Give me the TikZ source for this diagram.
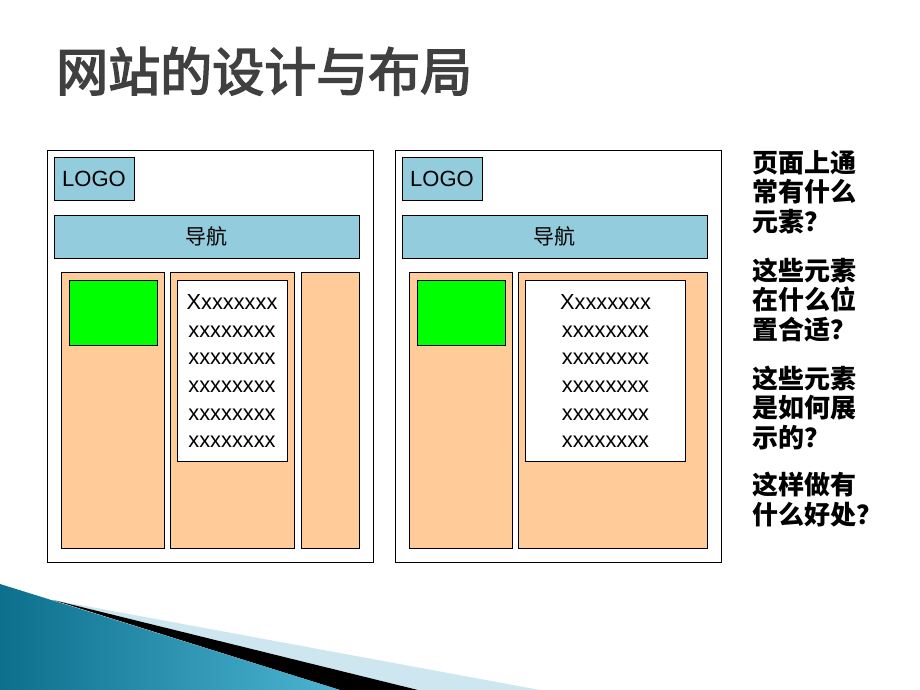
\documentclass[tikz,border=0pt]{standalone}
\usepackage{fontspec}
\setmainfont{Liberation Sans}
\newfontfamily\cjk{Noto Sans CJK SC}
\newfontfamily\cjktitle[FakeBold=3]{Noto Sans CJK SC}
\begin{document}
\begin{tikzpicture}[x=1pt,y=-1pt,
  panel/.style={draw=black, line width=0.9pt, fill=white, inner sep=0pt},
  bluebox/.style={draw=black, line width=0.9pt, fill=navblue, inner sep=0pt},
  colbox/.style={draw=black, line width=0.9pt, fill=peach, inner sep=0pt},
  greenbox/.style={draw=black, line width=0.9pt, fill=brightgreen, inner sep=0pt},
  whitebox/.style={draw=black, line width=0.9pt, fill=white, inner sep=0pt},
  logotext/.style={font=\fontsize{22pt}{26pt}\selectfont},
  navtext/.style={font=\cjk\fontsize{21pt}{25pt}\selectfont},
  xtext/.style={inner sep=0pt, align=center, font=\fontsize{21.8pt}{27.7pt}\selectfont},
  qtext/.style={inner sep=0pt, align=left, anchor=base west, font=\cjk\bfseries\fontsize{26pt}{29.7pt}\selectfont},
]
\definecolor{navblue}{RGB}{147,205,221}
\definecolor{peach}{RGB}{255,204,153}
\definecolor{brightgreen}{RGB}{0,255,0}
\definecolor{titlegray}{RGB}{64,64,64}
\definecolor{tealdark}{RGB}{12,112,140}
\definecolor{teallight}{RGB}{76,180,210}
\definecolor{paleblue}{RGB}{205,230,240}

\fill[white] (0,0) rectangle (920,690);
\useasboundingbox (0,0) rectangle (920,690);

% title
\node[anchor=base west, inner sep=0pt, text=titlegray,
      font=\cjktitle\fontsize{52pt}{60pt}\selectfont] (title) at (56,91) {网站的设计与布局};

% panel 1
\node[panel, minimum width=326pt, minimum height=412pt] (p1) at (210,356) {};
\node[bluebox, minimum width=80pt, minimum height=43pt] (logo1) at (94,178.5) {};
\node[logotext] (logo1t) at (logo1.center) {LOGO};
\node[bluebox, minimum width=305pt, minimum height=43pt] (nav1) at (206.5,236.5) {};
\node[navtext] (nav1t) at (nav1.center) {导航};
\node[colbox, minimum width=103pt, minimum height=276pt] (c1a) at (112.5,410) {};
\node[colbox, minimum width=124pt, minimum height=276pt] (c1b) at (232,410) {};
\node[colbox, minimum width=58.5pt, minimum height=276pt] (c1c) at (330.25,410) {};
\node[greenbox, minimum width=88pt, minimum height=65.5pt] (g1) at (113,312.75) {};
\node[whitebox, minimum width=110pt, minimum height=181pt] (w1) at (232,370.5) {};
\node[xtext, anchor=base] (x1) at (232,447.8) {Xxxxxxxx\\xxxxxxxx\\xxxxxxxx\\xxxxxxxx\\xxxxxxxx\\xxxxxxxx};

% panel 2
\node[panel, minimum width=326pt, minimum height=412pt] (p2) at (558,356) {};
\node[bluebox, minimum width=80pt, minimum height=43pt] (logo2) at (442,178.5) {};
\node[logotext] (logo2t) at (logo2.center) {LOGO};
\node[bluebox, minimum width=305pt, minimum height=43pt] (nav2) at (554.5,236.5) {};
\node[navtext] (nav2t) at (nav2.center) {导航};
\node[colbox, minimum width=103pt, minimum height=276pt] (c2a) at (460.5,410) {};
\node[colbox, minimum width=188.7pt, minimum height=276pt] (c2b) at (612.65,410) {};
\node[greenbox, minimum width=88pt, minimum height=65.5pt] (g2) at (461,312.75) {};
\node[whitebox, minimum width=160.4pt, minimum height=181pt] (w2) at (605.5,370.5) {};
\node[xtext, anchor=base] (x2) at (605.5,447.8) {Xxxxxxxx\\xxxxxxxx\\xxxxxxxx\\xxxxxxxx\\xxxxxxxx\\xxxxxxxx};

% questions (anchor = baseline of last line)
\node[qtext] (q1) at (752,231.5) {页面上通\\常有什么\\元素？};
\node[qtext] (q2) at (752,339.5) {这些元素\\在什么位\\置合适？};
\node[qtext] (q3) at (752,447.5) {这些元素\\是如何展\\示的？};
\node[qtext] (q4) at (752,524.5) {这样做有\\什么好处？};

% bottom-left decoration
\fill[paleblue] (53,600) -- (540,690) -- (418,690) -- cycle;
\fill[black] (53,600) -- (418,690) -- (340,690) -- cycle;
\shade[left color=tealdark, right color=teallight] (0,584) -- (340,690) -- (0,690) -- cycle;
\end{tikzpicture}
\end{document}
